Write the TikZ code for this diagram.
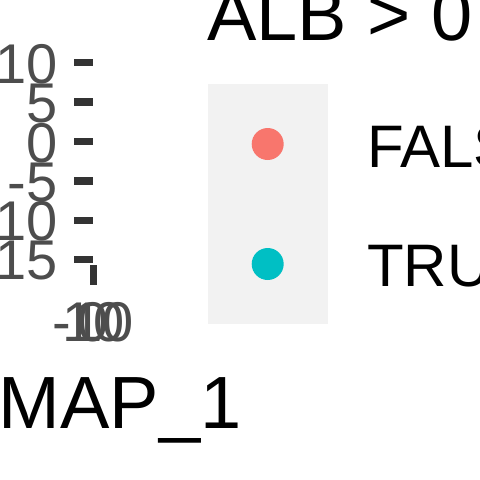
\documentclass[tikz,border=0pt]{standalone}
\usepackage{fontspec}
\setmainfont{Liberation Sans}
\usepackage{xcolor}
\usepackage{tikz}
\usetikzlibrary{positioning}
\definecolor{axisgrey}{HTML}{4D4D4D}
\definecolor{tickgrey}{HTML}{333333}
\definecolor{keygrey}{HTML}{F2F2F2}
\definecolor{falsered}{HTML}{F8766D}
\definecolor{truecyan}{HTML}{00BFC4}

\begin{document}
\begin{tikzpicture}[x=1pt,y=-1pt,
  ticklab/.style={text=axisgrey,inner sep=0pt,font=\fontsize{56}{56}\selectfont},
  tickmark/.style={draw=tickgrey,line width=7.5pt},
  keylab/.style={inner sep=0pt,anchor=base west,font=\fontsize{60}{60}\selectfont},
  keydot/.style={circle,inner sep=0pt,minimum size=32pt}]
\useasboundingbox (0,0) rectangle (480,480);
\clip (0,0) rectangle (480,480);
% Y axis ticks and labels
\foreach \ty/\lab [count=\i] in {62.7/10,102/5,141.7/0,181/-5,220.3/-10,259.3/-15}{
  \node[ticklab,anchor=base east] (ylab\i) at (57.5,\ty+20.3) {\lab};
  \draw[tickmark] (74,\ty) -- (93.3,\ty);
}
% X axis tick and labels
\draw[tickmark] (93.3,265) -- (93.3,285);
\foreach \lab [count=\i] in {-10,0,10}
  \node[ticklab,anchor=base] (xlab\i) at (93.3,341.7) {\lab};
% Axis title
\node[inner sep=0pt,anchor=base,font=\fontsize{74}{74}\selectfont] (xtitle) at (93.3,428) {UMAP\_1};
% Legend
\node[inner sep=0pt,anchor=base west,font=\fontsize{74}{74}\selectfont] (legtitle) at (207,40) {ALB > 0};
\fill[keygrey] (208,84) rectangle (328,324);
\node[keydot,fill=falsered] (keyF) at (267.7,144) {};
\node[keydot,fill=truecyan] (keyT) at (267.7,264) {};
\node[keylab] (labF) at (367,167) {FALSE};
\node[keylab] (labT) at (367,286) {TRUE};
\end{tikzpicture}
\end{document}
